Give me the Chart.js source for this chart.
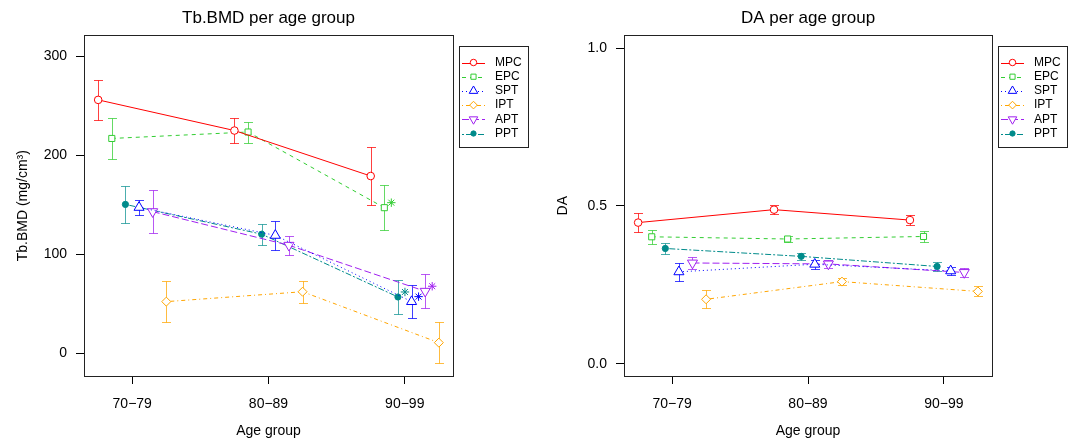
<!DOCTYPE html>
<html>
<head>
<meta charset="utf-8">
<script src="https://cdn.jsdelivr.net/npm/chart.js@4.4.1/dist/chart.umd.min.js"></script>
<style>
  html, body { margin: 0; padding: 0; background: #fff; }
  #wrap { position: relative; width: 1077px; height: 441px; }
  #c1 { position: absolute; left: 0; top: 0; }
  #c2 { position: absolute; left: 540px; top: 0; }
</style>
</head>
<body>
<div id="wrap">
  <canvas id="c1" width="540" height="441"></canvas>
  <canvas id="c2" width="537" height="441"></canvas>
</div>
<script>
/* ---- data ---- */
var ageGroups = ['70−79', '80−89', '90−99'];
var seriesNames = ['MPC', 'EPC', 'SPT', 'IPT', 'APT', 'PPT'];

// Tb.BMD means / error half-widths, one row per series (same order as seriesNames)
var bmdMean = [
  [256, 225, 179],
  [217, 223.5, 147],
  [147.3, 119, 52],
  [52, 62, 10.5],
  [143, 109, 62.5],
  [150.3, 120.2, 56.7]
];
var bmdErr = [
  [20, 13, 29.5],
  [21, 10.6, 23],
  [7.9, 14.3, 17],
  [20.5, 11, 20.4],
  [21.9, 9.4, 17.3],
  [18.7, 10.6, 17.2]
];
// significance asterisk per series / group
var bmdSig = [
  [0, 0, 0],
  [0, 0, 1],
  [0, 0, 1],
  [0, 0, 0],
  [0, 0, 1],
  [0, 0, 1]
];

var daMean = [
  [0.447, 0.488, 0.455],
  [0.402, 0.395, 0.403],
  [0.291, 0.315, 0.294],
  [0.204, 0.260, 0.229],
  [0.319, 0.316, 0.289],
  [0.365, 0.340, 0.308]
];
var daErr = [
  [0.030, 0.014, 0.015],
  [0.022, 0.010, 0.018],
  [0.028, 0.015, 0.012],
  [0.028, 0.010, 0.016],
  [0.020, 0.012, 0.015],
  [0.018, 0.012, 0.015]
];
var daSig = [
  [0, 0, 0], [0, 0, 0], [0, 0, 0], [0, 0, 0], [0, 0, 0], [0, 0, 0]
];

var bmdTicks = [0, 100, 200, 300];
var daTicks = [0, 0.5, 1.0];

/* ---- styles ---- */
var FONT = '"Liberation Sans", Arial, Helvetica, sans-serif';
var colors = ['#FF0000', '#32CD32', '#0000FF', '#FFA500', '#A020F0', '#008B8B'];
var errColors = ['rgba(255,0,0,0.75)', 'rgba(50,205,50,0.75)', 'rgba(0,0,255,0.75)',
                 'rgba(255,165,0,0.75)', 'rgba(160,32,240,0.75)', 'rgba(0,139,139,0.7)'];
var dashes = [[], [4, 4], [1, 3], [1, 3, 4, 3], [7, 3], [2, 2, 6, 2]];
var pStyles = ['circle', 'rect', 'triangle', 'rectRot', 'triangle', 'circle'];
var pRot = [0, 0, 0, 0, 180, 0];
var pRad = [3.8, 4.3, 5.8, 4.5, 5.8, 3.1];
var pFill = ['#fff', '#fff', '#fff', '#fff', '#fff', '#008B8B'];
var dodge = [-0.25, -0.15, 0.05, 0.25, 0.15, -0.05];

function px(v) { return Math.round(v) + 0.5; }

// error bars, asterisks, box and legend, R style
var rPlot = {
  id: 'rPlot',
  beforeDatasetsDraw: function (chart) {
    var ctx = chart.ctx, xs = chart.scales.x, ys = chart.scales.y;
    chart.data.datasets.forEach(function (ds) {
      ctx.save();
      ctx.strokeStyle = ds.errColor;
      ctx.lineWidth = 1;
      ds.data.forEach(function (p, j) {
        var x = px(xs.getPixelForValue(p.x));
        var t = px(ys.getPixelForValue(p.y + ds.err[j]));
        var b = px(ys.getPixelForValue(p.y - ds.err[j]));
        ctx.beginPath();
        ctx.moveTo(x, t); ctx.lineTo(x, b);
        ctx.moveTo(x - 4.5, t); ctx.lineTo(x + 4.5, t);
        ctx.moveTo(x - 4.5, b); ctx.lineTo(x + 4.5, b);
        ctx.stroke();
      });
      ctx.restore();
    });
  },
  afterDatasetsDraw: function (chart) {
    var ctx = chart.ctx, xs = chart.scales.x, ys = chart.scales.y;
    chart.data.datasets.forEach(function (ds) {
      ds.data.forEach(function (p, j) {
        if (!ds.sig[j]) return;
        var x = xs.getPixelForValue(p.x) + 7, y = ys.getPixelForValue(p.y) - 5, r = 4.2;
        ctx.save();
        ctx.strokeStyle = ds.borderColor;
        ctx.lineWidth = 1;
        ctx.beginPath();
        for (var a = 0; a < 4; a++) {
          var ang = a * Math.PI / 4;
          ctx.moveTo(x - r * Math.cos(ang), y - r * Math.sin(ang));
          ctx.lineTo(x + r * Math.cos(ang), y + r * Math.sin(ang));
        }
        ctx.stroke();
        ctx.restore();
      });
    });
  },
  afterDraw: function (chart) {
    var ctx = chart.ctx, a = chart.chartArea;
    ctx.save();
    ctx.strokeStyle = '#222';
    ctx.lineWidth = 1;
    ctx.strokeRect(px(a.left), px(a.top), Math.round(a.right - a.left), Math.round(a.bottom - a.top));

    // legend
    var lx = Math.round(a.right) + 6, ly = Math.round(a.top) + 11;
    ctx.strokeStyle = '#222';
    ctx.strokeRect(lx + 0.5, ly + 0.5, 69, 101);
    ctx.font = '12px ' + FONT;
    ctx.textBaseline = 'middle';
    ctx.textAlign = 'left';
    chart.data.datasets.forEach(function (ds, i) {
      var y = ly + 16.5 + i * 14.2;
      ctx.save();
      ctx.strokeStyle = ds.borderColor;
      ctx.setLineDash(ds.borderDash);
      ctx.beginPath();
      ctx.moveTo(lx + 3, px(y)); ctx.lineTo(lx + 26, px(y));
      ctx.stroke();
      ctx.setLineDash([]);
      ctx.fillStyle = ds.pointBackgroundColor;
      ctx.strokeStyle = ds.borderColor;
      Chart.helpers.drawPoint(ctx, {
        pointStyle: ds.pointStyle, radius: ds.pointRadius * 0.85,
        rotation: ds.pointRotation, borderWidth: 1
      }, lx + 14.5, y);
      ctx.restore();
      ctx.fillStyle = '#000';
      ctx.fillText(ds.label, lx + 36, y);
    });
    ctx.restore();
  }
};

function makeChart(id, title, yTitle, means, errs, sig, ymin, ymax, yticks, decimals, padRight) {
  var datasets = seriesNames.map(function (name, i) {
    return {
      label: name,
      data: ageGroups.map(function (g, j) { return { x: j + 1 + dodge[i], y: means[i][j] }; }),
      err: errs[i],
      sig: sig[i],
      errColor: errColors[i],
      borderColor: colors[i],
      backgroundColor: colors[i],
      borderWidth: 1,
      borderDash: dashes[i],
      pointStyle: pStyles[i],
      pointRotation: pRot[i],
      pointRadius: pRad[i],
      pointBorderWidth: 1,
      pointBackgroundColor: pFill[i],
      pointBorderColor: colors[i],
      tension: 0,
      fill: false
    };
  });

  return new Chart(document.getElementById(id), {
    type: 'line',
    data: { datasets: datasets },
    options: {
      responsive: false,
      animation: false,
      events: [],
      layout: { padding: { left: 0, right: padRight, top: 0, bottom: 0 } },
      plugins: {
        legend: { display: false },
        tooltip: { enabled: false },
        title: {
          display: true,
          fullSize: false,
          text: title,
          color: '#000',
          font: { family: FONT, size: 17, weight: 'normal', lineHeight: 1.2 },
          padding: { top: 8, bottom: 7 }
        }
      },
      scales: {
        x: {
          type: 'linear',
          min: 0.646,
          max: 3.354,
          afterBuildTicks: function (s) { s.ticks = ageGroups.map(function (g, j) { return { value: j + 1 }; }); },
          afterFit: function (s) { s.height = 65; },
          ticks: {
            color: '#000',
            font: { family: FONT, size: 14 },
            padding: 12,
            maxRotation: 0,
            callback: function (v) { return ageGroups[v - 1]; }
          },
          grid: { drawOnChartArea: false, drawTicks: true, tickLength: 8, color: '#000' },
          border: { display: false },
          title: {
            display: true, text: 'Age group', color: '#000',
            font: { family: FONT, size: 14 }, padding: { top: 0, bottom: 1 }
          }
        },
        y: {
          min: ymin,
          max: ymax,
          afterBuildTicks: function (s) { s.ticks = yticks.map(function (v) { return { value: v }; }); },
          afterFit: function (s) { s.width = 84; },
          ticks: {
            color: '#000',
            font: { family: FONT, size: 14 },
            padding: 9,
            callback: function (v) { return v.toFixed(decimals); }
          },
          grid: { drawOnChartArea: false, drawTicks: true, tickLength: 8, color: '#000' },
          border: { display: false },
          title: {
            display: true, text: yTitle, color: '#000',
            font: { family: FONT, size: 14 }, padding: { top: 15, bottom: 0 }
          }
        }
      }
    },
    plugins: [rPlot]
  });
}

makeChart('c1', 'Tb.BMD per age group', 'Tb.BMD (mg/cm³)', bmdMean, bmdErr, bmdSig,
  -23.2, 321.2, bmdTicks, 0, 87);
makeChart('c2', 'DA per age group', 'DA', daMean, daErr, daSig,
  -0.039, 1.040, daTicks, 1, 85);
</script>
</body>
</html>
